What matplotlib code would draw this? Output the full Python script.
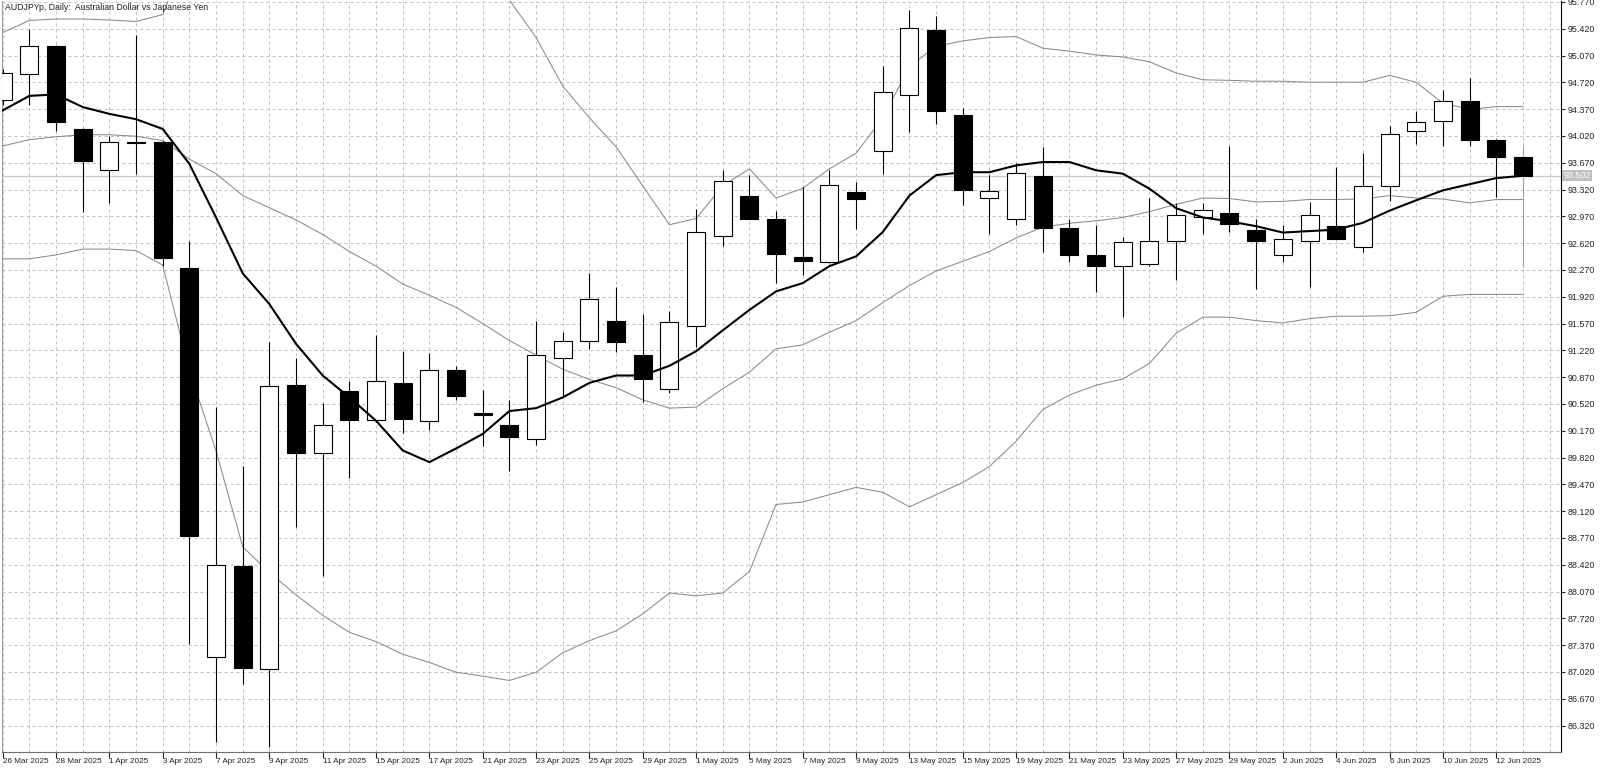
import matplotlib
matplotlib.use("Agg")
import matplotlib.pyplot as plt
from matplotlib.patches import Rectangle
import matplotlib.transforms as mtransforms

dates = ["26 Mar 2025", "27 Mar 2025", "28 Mar 2025", "31 Mar 2025", "1 Apr 2025", "2 Apr 2025",
         "3 Apr 2025", "4 Apr 2025", "7 Apr 2025", "8 Apr 2025", "9 Apr 2025", "10 Apr 2025",
         "11 Apr 2025", "14 Apr 2025", "15 Apr 2025", "16 Apr 2025", "17 Apr 2025", "18 Apr 2025",
         "21 Apr 2025", "22 Apr 2025", "23 Apr 2025", "24 Apr 2025", "25 Apr 2025", "28 Apr 2025",
         "29 Apr 2025", "30 Apr 2025", "1 May 2025", "2 May 2025", "5 May 2025", "6 May 2025",
         "7 May 2025", "8 May 2025", "9 May 2025", "12 May 2025", "13 May 2025", "14 May 2025",
         "15 May 2025", "16 May 2025", "19 May 2025", "20 May 2025", "21 May 2025", "22 May 2025",
         "23 May 2025", "26 May 2025", "27 May 2025", "28 May 2025", "29 May 2025", "30 May 2025",
         "2 Jun 2025", "3 Jun 2025", "4 Jun 2025", "5 Jun 2025", "6 Jun 2025", "9 Jun 2025",
         "10 Jun 2025", "11 Jun 2025", "12 Jun 2025", "13 Jun 2025"]

opens = [94.49, 94.83, 95.20, 94.11, 93.57, 93.935, 93.94, 92.30, 87.21, 88.40,
         87.06, 90.77, 89.88, 90.69, 90.31, 90.80, 90.30, 90.97, 90.40, 90.25,
         90.06, 91.12, 91.34, 91.61, 91.16, 90.72, 91.54, 92.72, 93.24, 92.94,
         92.44, 92.37, 93.29, 93.83, 94.56, 95.41, 94.30, 93.21, 92.94, 93.50,
         92.82, 92.46, 92.32, 92.35, 92.65, 92.96, 93.02, 92.79, 92.47, 92.65,
         92.84, 92.57, 93.37, 94.09, 94.22, 94.48, 93.97, 93.74]
highs = [94.90, 95.42, 95.21, 94.12, 94.02, 95.34, 93.96, 92.65, 90.48, 89.71,
         91.33, 91.12, 90.53, 90.82, 91.42, 91.21, 91.18, 91.01, 90.70, 90.57,
         91.61, 91.46, 92.23, 92.05, 91.69, 91.73, 93.07, 93.58, 93.51, 93.04,
         93.36, 93.58, 93.42, 94.94, 95.66, 95.59, 94.39, 93.51, 93.67, 93.87,
         92.94, 92.86, 92.70, 93.21, 93.15, 93.15, 93.89, 92.93, 92.86, 93.16,
         93.61, 93.80, 94.15, 94.35, 94.62, 94.78, 93.98, 93.89]
lows = [94.42, 94.43, 94.09, 93.03, 93.15, 93.53, 92.32, 87.39, 86.10, 86.86,
        86.04, 88.91, 88.28, 89.56, 90.28, 90.14, 90.18, 90.57, 89.97, 89.64,
        89.99, 90.62, 91.24, 91.20, 90.54, 90.66, 91.26, 92.58, 92.93, 92.10,
        92.21, 92.36, 92.81, 93.52, 94.07, 94.18, 93.12, 92.74, 92.86, 92.50,
        92.37, 91.98, 91.65, 92.32, 92.14, 92.74, 92.77, 92.02, 92.37, 92.05,
        92.67, 92.50, 93.17, 93.91, 93.89, 93.89, 93.22, 92.31]
closes = [94.84, 95.20, 94.20, 93.69, 93.94, 93.94, 92.43, 88.79, 88.42, 87.07,
          90.75, 89.88, 90.24, 90.31, 90.82, 90.32, 90.97, 90.62, 90.37, 90.09,
          91.16, 91.34, 91.89, 91.33, 90.84, 91.59, 92.77, 93.43, 92.94, 92.48,
          92.39, 93.38, 93.20, 94.60, 95.43, 94.34, 93.32, 93.30, 93.54, 92.82,
          92.46, 92.32, 92.63, 92.65, 92.99, 93.06, 92.87, 92.65, 92.68, 92.99,
          92.68, 93.37, 94.04, 94.20, 94.48, 93.97, 93.74, 93.502]

ma_line = [94.354, 94.544, 94.563, 94.398, 94.309, 94.239, 94.112, 93.655, 92.956, 92.226,
           91.825, 91.305, 90.892, 90.606, 90.301, 89.913, 89.761, 89.939, 90.129, 90.428,
           90.466, 90.606, 90.796, 90.892, 90.892, 91.019, 91.209, 91.482, 91.749, 91.991,
           92.099, 92.321, 92.448, 92.766, 93.242, 93.509, 93.547, 93.547, 93.636, 93.680,
           93.680, 93.572, 93.528, 93.331, 93.077, 92.956, 92.905, 92.842, 92.759, 92.778,
           92.797, 92.886, 93.045, 93.180, 93.310, 93.390, 93.470, 93.500]
bb_upper = [95.370, 95.529, 95.548, 95.548, 95.535, 95.516, 95.605, 96.48, 97.15, 97.83,
            97.85, 97.81, 97.71, 97.48, 97.22, 96.94, 96.74, 96.55, 96.18, 95.795,
            95.306, 94.671, 94.258, 93.877, 93.369, 92.861, 92.943, 93.369, 93.591, 93.210,
            93.337, 93.591, 93.795, 94.258, 94.925, 95.192, 95.262, 95.306, 95.319, 95.167,
            95.128, 95.078, 95.052, 94.989, 94.843, 94.754, 94.747, 94.735, 94.735, 94.722,
            94.722, 94.722, 94.811, 94.722, 94.449, 94.366, 94.404, 94.404]
bb_mid = [93.890, 93.972, 94.010, 94.036, 94.036, 94.017, 93.960, 93.718, 93.528, 93.242,
          93.083, 92.924, 92.734, 92.511, 92.321, 92.086, 91.940, 91.781, 91.571, 91.349,
          91.158, 90.974, 90.841, 90.733, 90.574, 90.466, 90.479, 90.720, 90.936, 91.241,
          91.292, 91.457, 91.609, 91.844, 92.067, 92.257, 92.384, 92.511, 92.689, 92.829,
          92.880, 92.912, 92.956, 93.032, 93.128, 93.210, 93.204, 93.159, 93.166, 93.191,
          93.191, 93.197, 93.242, 93.210, 93.197, 93.147, 93.190, 93.190]
bb_lower = [92.416, 92.416, 92.467, 92.543, 92.543, 92.524, 92.334, 90.955, 89.907, 88.656,
            88.319, 88.027, 87.760, 87.538, 87.417, 87.252, 87.144, 87.017, 86.966, 86.909,
            87.017, 87.271, 87.430, 87.557, 87.779, 88.052, 88.014, 88.052, 88.332, 89.208,
            89.240, 89.336, 89.431, 89.367, 89.177, 89.336, 89.494, 89.704, 90.034, 90.447,
            90.638, 90.765, 90.847, 91.051, 91.444, 91.654, 91.654, 91.609, 91.578, 91.635,
            91.667, 91.667, 91.673, 91.717, 91.927, 91.952, 91.952, 91.952]

price_ticks = [95.770, 95.420, 95.070, 94.720, 94.370, 94.020, 93.670, 93.320, 92.970,
               92.620, 92.270, 91.920, 91.570, 91.220, 90.870, 90.520, 90.170, 89.820,
               89.470, 89.120, 88.770, 88.420, 88.070, 87.720, 87.370, 87.020, 86.670, 86.320]
current_price = 93.502
title = "AUDJPYp, Daily:  Australian Dollar vs Japanese Yen"

FONT = ["Liberation Sans", "DejaVu Sans"]
plt.rcParams['font.family'] = FONT

W, H = 1600, 769
fig = plt.figure(figsize=(W / 100, H / 100), dpi=100)
fig.patch.set_facecolor("white")
ax = fig.add_axes([2 / W, 1 - 751.7 / H, (1561 - 2) / W, (751.7 - 1) / H])
ax.set_facecolor("white")

n = len(dates)
xs = list(range(n))
ax.set_xlim(-0.026, 58.43)
ax.set_ylim(85.979, 95.783)

grid_kw = dict(color="#c0c0c0", lw=0.72, linestyle=(0, (3, 3)), zorder=0)
for gx in range(n + 1):
    ax.axvline(gx, **grid_kw)
for p in price_ticks:
    ax.axhline(p, **grid_kw)

# current price line
ax.axhline(current_price, color="#c8c8c8", lw=0.9, zorder=1)

# indicator lines
band_col = "#8a8a8a"
ax.plot(xs, bb_upper, color=band_col, lw=0.75, zorder=2)
ax.plot(xs, bb_mid, color=band_col, lw=0.75, zorder=2)
ax.plot(xs, bb_lower, color=band_col, lw=0.75, zorder=2)
ax.plot(xs, ma_line, color="black", lw=1.5, zorder=6)

# candles
bw = 0.675
for i in range(n):
    o, h, l, c = opens[i], highs[i], lows[i], closes[i]
    wick_col = "#a0a0a0" if i == n - 1 else "black"
    ax.vlines(i, l, h, color=wick_col, lw=0.8, zorder=3)
    bull = c >= o
    lo_, hi_ = min(o, c), max(o, c)
    ax.add_patch(Rectangle((i - bw / 2, lo_), bw, max(hi_ - lo_, 0.004),
                           facecolor="white" if bull else "black",
                           edgecolor="black", lw=0.8, zorder=4))

# axes styling
ax.spines["top"].set_visible(False)
ax.spines["left"].set_color("#a0a0a0")
ax.spines["left"].set_linewidth(0.8)
ax.spines["bottom"].set_color("#707070")
ax.spines["bottom"].set_linewidth(0.8)
ax.spines["right"].set_color("black")
ax.spines["right"].set_linewidth(0.8)

ax.yaxis.tick_right()
ax.set_yticks(price_ticks)
ax.set_yticklabels([f"{p:.3f}" for p in price_ticks])
ax.tick_params(axis="y", direction="out", length=3, width=0.8, pad=1.5,
               labelsize=6.4, colors="#222222")

label_idx = list(range(0, n, 2))
ax.set_xticks(label_idx)
ax.set_xticklabels([dates[i] for i in label_idx])
ax.tick_params(axis="x", direction="out", length=4, width=0.8, pad=0.5,
               labelsize=5.9, colors="#222222")
for lbl in ax.get_xticklabels():
    lbl.set_horizontalalignment("left")

# current price label on axis
trans = mtransforms.blended_transform_factory(ax.transAxes, ax.transData)
ax.text(1.0015, current_price, f"{current_price:.3f}", transform=trans,
        fontsize=6.4, color="white", va="center", ha="left",
        bbox=dict(boxstyle="square,pad=0.15", facecolor="#c0c0c0", edgecolor="none"),
        clip_on=False, zorder=10)

fig.text(5 / W, 1 - 8 / H, title, fontsize=6.3, color="#222222", va="center", ha="left")

fig.savefig("out.png", dpi=100, facecolor="white")
